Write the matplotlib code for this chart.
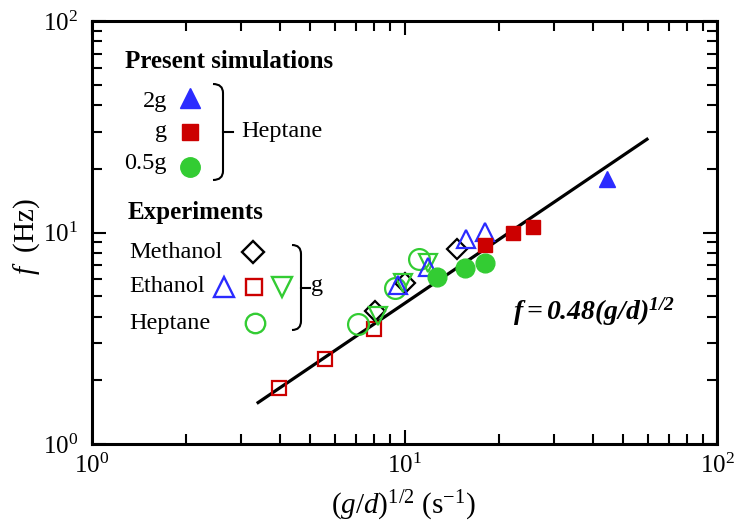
import matplotlib
matplotlib.use("Agg")
import matplotlib.pyplot as plt
from matplotlib.path import Path
from matplotlib.patches import PathPatch
from matplotlib.ticker import NullFormatter

plt.rcParams['font.family'] = 'Liberation Serif'
plt.rcParams['mathtext.fontset'] = 'custom'
plt.rcParams['mathtext.rm'] = 'Liberation Serif'
plt.rcParams['mathtext.it'] = 'Liberation Serif:italic'
plt.rcParams['mathtext.bf'] = 'Liberation Serif:bold'

# present simulations (heptane)
sim_2g_x = [44.5]
sim_2g_f = [17.9]
sim_1g_x = [18.1, 22.2, 25.8]
sim_1g_f = [8.73, 9.95, 10.6]
sim_05g_x = [12.7, 15.6, 18.1]
sim_05g_f = [6.16, 6.80, 7.17]

# experiments (g)
methanol_x = [8.05, 10.0, 14.7]
methanol_f = [4.25, 5.77, 8.36]
ethanol_up_x = [9.53, 11.9, 15.7, 18.1]
ethanol_up_f = [5.65, 6.87, 9.31, 10.05]
ethanol_sq_x = [3.97, 5.57, 7.99]
ethanol_sq_f = [1.84, 2.52, 3.50]
ethanol_dn_x = [8.2, 9.89, 11.9]
ethanol_dn_f = [4.03, 5.77, 7.17]
heptane_exp_x = [7.10, 9.32, 11.1]
heptane_exp_f = [3.69, 5.47, 7.49]

# fitted line f = 0.48 (g/d)^1/2, end points as drawn
fit_x = [3.4, 59.7]
fit_f = [1.57, 27.6]

BLUE = "#2b2bff"
RED = "#cc0000"
GREEN = "#33cc33"

fig = plt.figure(figsize=(7.36, 5.30), dpi=100)
ax = fig.add_axes([92/736, 1 - 444/530, 625/736, 423/530])


def axp(px, py):
    """pixel position in the figure -> axes fraction"""
    return (px - 92) / 625, (444 - py) / 423


ax.plot(fit_x, fit_f, color="black", lw=2.3, zorder=2)

open_kw = dict(ls="none", mfc="none", mew=1.6, zorder=3)
ax.plot(ethanol_sq_x, ethanol_sq_f, marker="s", ms=10.5, mec=RED, **open_kw)
ax.plot(heptane_exp_x, heptane_exp_f, marker="o", ms=15, mec=GREEN, **open_kw)
ax.plot(methanol_x, methanol_f, marker="D", ms=10, mec="black", **open_kw)
ax.plot(ethanol_dn_x, ethanol_dn_f, marker="v", ms=13, mec=GREEN, **open_kw)
ax.plot(ethanol_up_x, ethanol_up_f, marker="^", ms=13, mec=BLUE, **open_kw)

ax.plot(sim_1g_x, sim_1g_f, marker="s", ms=10, ls="none", color=RED, zorder=3)
ax.plot(sim_05g_x, sim_05g_f, marker="o", ms=13.5, ls="none", color=GREEN, zorder=3)
ax.plot(sim_2g_x, sim_2g_f, marker="^", ms=12, ls="none", color=BLUE, zorder=3)

ax.set_xscale("log")
ax.set_yscale("log")
ax.set_xlim(1, 100)
ax.set_ylim(1, 100)
ax.xaxis.set_minor_formatter(NullFormatter())
ax.yaxis.set_minor_formatter(NullFormatter())
ax.tick_params(which="both", direction="in", top=True, right=True, width=1.5, labelsize=18)
ax.tick_params(which="major", length=10)
ax.tick_params(which="minor", length=7)
ax.tick_params(axis="x", pad=7)
ax.tick_params(axis="y", pad=10)
for s in ax.spines.values():
    s.set_linewidth(2.2)

ax.set_xlabel(r"$(\mathit{g/d})^{\mathit{1/2}}\ \mathrm{(s^{-1})}$", fontsize=21)
ax.xaxis.set_label_coords(0.498, -0.105)
ax.set_ylabel(r"$\mathit{f}$  (Hz)", fontsize=21)
ax.yaxis.set_label_coords(-0.08, 0.49)

ax.text(*axp(513, 320), r"$\mathregular{f=0.48(g/d)^{1/2}}$", transform=ax.transAxes,
        fontsize=20, fontweight="bold", style="italic", va="baseline")

# hand-made legend
tk = dict(transform=ax.transAxes, fontsize=17.5, va="center")
lk = dict(transform=ax.transAxes, clip_on=False, ls="none")

ax.text(*axp(125, 62), "Present simulations", fontweight="bold", fontsize=18,
        transform=ax.transAxes, va="center")
ax.text(*axp(167, 101), "2g", ha="right", **tk)
ax.text(*axp(167, 132), "g", ha="right", **tk)
ax.text(*axp(167, 164), "0.5g", ha="right", **tk)
ax.plot(*axp(190, 98), marker="^", ms=14, color=BLUE, **lk)
ax.plot(*axp(190, 132), marker="s", ms=11, color=RED, **lk)
ax.plot(*axp(190, 167), marker="o", ms=14, color=GREEN, **lk)
ax.text(*axp(241, 132), "Heptane", **tk)

ax.text(*axp(128, 213), "Experiments", fontweight="bold", fontsize=18,
        transform=ax.transAxes, va="center")
ax.text(*axp(129, 252), "Methanol", **tk)
ax.text(*axp(129, 287), "Ethanol", **tk)
ax.text(*axp(129, 323), "Heptane", **tk)
ax.plot(*axp(253, 252), marker="D", ms=11, mfc="none", mec="black", mew=1.7, **lk)
ax.plot(*axp(224, 287), marker="^", ms=14, mfc="none", mec=BLUE, mew=1.7, **lk)
ax.plot(*axp(254, 287), marker="s", ms=12, mfc="none", mec=RED, mew=1.7, **lk)
ax.plot(*axp(282, 287), marker="v", ms=14, mfc="none", mec=GREEN, mew=1.7, **lk)
ax.plot(*axp(255, 323), marker="o", ms=14, mfc="none", mec=GREEN, mew=1.7, **lk)
ax.text(*axp(311, 285), "g", **tk)


def brace(x0, x1, ytop, ybot, xdash, r=9):
    ymid = (ytop + ybot) / 2
    verts = [axp(x0, ytop), axp(x1, ytop), axp(x1, ytop + r),
             axp(x1, ybot - r), axp(x1, ybot), axp(x0, ybot)]
    codes = [Path.MOVETO, Path.CURVE3, Path.CURVE3,
             Path.LINETO, Path.CURVE3, Path.CURVE3]
    ax.add_patch(PathPatch(Path(verts, codes), fc="none", ec="black", lw=1.5,
                           transform=ax.transAxes, clip_on=False))
    ax.plot(*zip(axp(x1, ymid), axp(xdash, ymid)), color="black", lw=1.5,
            transform=ax.transAxes, clip_on=False)


brace(213, 223, 84, 180, 233)
brace(292, 301, 245, 330, 310)

fig.savefig("out.png", dpi=100)
